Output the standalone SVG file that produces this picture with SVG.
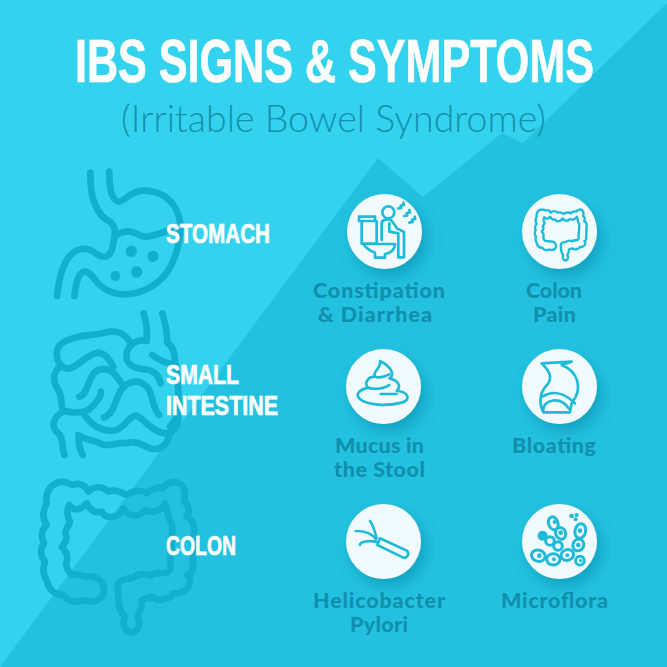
<svg xmlns="http://www.w3.org/2000/svg" xmlns:xlink="http://www.w3.org/1999/xlink" width="667" height="667" viewBox="0 0 667 667">
<style>
.organ{fill:none;stroke:#12B0CE;stroke-width:20;stroke-linecap:round;stroke-linejoin:round}
.dot{fill:#12B0CE}
.ic{fill:none;stroke:#1FBAD9;stroke-width:8;stroke-linecap:round;stroke-linejoin:round}
.icf{fill:#1FBAD9}
.disc{fill:#F1FBFF;filter:url(#sh)}
.head{font-family:"Liberation Sans",Arial,sans-serif;font-weight:700;fill:#fff;stroke:#fff;stroke-width:.7}
.lab{font-family:Lato,"Liberation Sans",sans-serif;font-weight:900;font-size:21.500px;fill:#1190AE;text-anchor:middle}
</style>
<defs>
<filter id="sh" x="-40%" y="-40%" width="200%" height="200%"><feDropShadow dx="5" dy="8" stdDeviation="7" flood-color="#0B7F9C" flood-opacity=".45"/></filter>
<path id="colon" d="M170 350C210 345 225 375 222 395C215 425 180 430 160 420C140 430 110 425 100 405C70 405 55 385 50 360C35 340 40 320 45 305C30 290 30 265 42 250C30 225 35 210 50 195C35 175 40 150 50 130C45 100 60 70 95 65C110 65 125 75 130 75C150 65 170 80 175 95C195 75 220 80 235 95C255 85 280 100 290 105C310 90 340 90 350 100C365 85 385 80 400 85C410 65 440 60 455 75C470 90 465 110 462 125C480 135 478 160 470 170C495 180 495 210 490 230C490 270 490 300 488 310C495 330 480 345 472 345C490 360 480 400 430 400C420 420 380 425 365 410C355 415 345 415 335 420C340 440 325 460 322 470C335 490 325 515 305 518C285 515 275 495 285 470C262 445 265 420 265 395C258 365 275 355 305 355C325 340 345 340 360 347C375 335 395 340 410 338C430 330 420 310 420 300C425 260 430 210 425 190C410 175 415 145 405 130C395 155 365 160 345 150C325 175 295 170 280 145C265 175 230 180 215 155C195 160 180 150 170 130C155 150 130 155 118 135C110 145 110 170 120 185C115 205 100 210 108 225C115 245 100 250 95 262C115 280 115 295 108 310C110 330 120 340 125 345C140 340 160 350 170 350Z"/>
</defs>
<rect width="667" height="667" fill="#33D2EE"/>
<polygon points="0,667 378,158 423,197 502,133 523,143 667,3 667,667" fill="#22C1DF"/>
<g id="title">
<text class="head" x="75" y="81.500" font-size="62" textLength="519" lengthAdjust="spacingAndGlyphs">IBS SIGNS &amp; SYMPTOMS</text>
<text x="121" y="132" font-family="Lato,sans-serif" font-weight="300" font-size="37" fill="#1790AD" textLength="425" lengthAdjust="spacingAndGlyphs">(Irritable Bowel Syndrome)</text>
</g>
<g id="stomach">
<g transform="translate(30 150) scale(.3333)">
<path class="organ" d="M181 68C180 130 190 190 240 215C262 230 255 260 248 290C240 330 215 325 190 305C160 285 125 300 105 340C90 370 85 405 81 438"/>
<path class="organ" d="M133 438C138 400 145 365 165 365C185 365 195 395 215 410C260 445 330 440 385 395C430 360 455 280 450 215C440 150 390 120 335 122C300 125 285 155 265 155C245 150 238 120 238 65"/>
<path class="organ" d="M255 258C290 235 310 245 335 258C360 265 390 250 420 240"/>
<circle class="dot" cx="304" cy="304" r="17"/><circle class="dot" cx="369" cy="319" r="17"/><circle class="dot" cx="320" cy="366" r="17"/><circle class="dot" cx="256" cy="378" r="15"/>
</g>
<text class="head" x="166" y="242.500" font-size="28" textLength="104" lengthAdjust="spacingAndGlyphs">STOMACH</text>
</g>
<g id="small-intestine">
<g transform="translate(30 150) scale(.3333)">
<path class="organ" d="M341 490C352 525 352 550 350 573C325 567 296 580 290 610C285 640 305 655 345 658C375 662 388 680 392 700"/>
<path class="organ" d="M397 490C408 525 412 550 412 578C430 590 436 610 436 640C445 680 445 720 445 740C450 780 440 810 420 830"/>
<path class="organ" d="M367 615C385 630 405 640 430 642"/>
<path class="organ" d="M300 575C280 545 250 540 225 548C200 555 170 555 145 560C110 570 80 580 80 610C80 640 100 660 120 655C150 645 175 610 205 608C230 610 245 640 250 650"/>
<path class="organ" d="M90 650C65 670 70 700 85 720C100 745 90 770 100 780C120 790 150 790 175 780C200 760 215 735 213 725"/>
<path class="organ" d="M148 740C170 735 170 705 185 680C200 650 240 650 260 680L278 705"/>
<path class="organ" d="M222 803C250 790 255 760 265 735C280 700 320 680 350 710C370 730 365 770 387 795"/>
<path class="organ" d="M100 785C70 800 60 830 85 850C100 860 95 890 103 915"/>
<path class="organ" d="M160 790C180 820 210 850 260 840C290 825 300 795 320 797C340 805 360 840 400 850C430 850 445 830 445 800"/>
<path class="organ" d="M158 915C150 900 145 880 145 855C165 870 190 870 210 880C235 895 260 875 285 880C320 870 335 885 360 895C395 905 415 880 418 850"/>
</g>
<text class="head" x="166" y="384" font-size="28" textLength="73" lengthAdjust="spacingAndGlyphs">SMALL</text>
<text class="head" x="166" y="415" font-size="28" textLength="112" lengthAdjust="spacingAndGlyphs">INTESTINE</text>
</g>
<g id="colon-organ">
<use xlink:href="#colon" href="#colon" class="organ" transform="translate(30 460) scale(.3333)"/>
<text class="head" x="166" y="554.500" font-size="28" textLength="70" lengthAdjust="spacingAndGlyphs">COLON</text>
</g>
<g id="constipation">
<circle class="disc" cx="384.500" cy="231.500" r="37.500"/>
<g transform="translate(330 180) scale(.3333)">
<path class="ic" d="M87 110H135V123H87ZM95 123H140V191H95ZM100 192H195C195 210 180 220 165 222V233H135V218C115 210 105 200 100 192Z"/>
<circle class="ic" cx="175" cy="97" r="18"/>
<path class="ic" d="M155 180V130C155 118 175 115 185 122L202 146L222 156V232H205V160L178 155V130"/>
<path class="ic" d="M205 85L214 84L212 77L222 75L220 68M222 108L232 106L230 99L240 97L238 90M238 128L248 126L246 119L256 117L254 110"/>
</g>
<text class="lab" x="379" y="297.500" textLength="132">Constipation</text>
<text class="lab" x="375" y="322" textLength="114">&amp; Diarrhea</text>
</g>
<g id="colon-pain">
<circle class="disc" cx="559.500" cy="231.500" r="37.500"/>
<use xlink:href="#colon" href="#colon" transform="translate(531 202) scale(.113)" fill="none" stroke="#1FBAD9" stroke-width="21" stroke-linejoin="round"/>
<text class="lab" x="554" y="297.500" textLength="56">Colon</text>
<text class="lab" x="554.500" y="322" textLength="43">Pain</text>
</g>
<g id="mucus">
<circle class="disc" cx="383.500" cy="386.500" r="37.500"/>
<g transform="translate(330 335) scale(.3333)">
<path class="ic" d="M150 78C185 95 195 120 178 130C205 135 215 155 200 168C235 170 245 195 215 203C170 215 110 210 90 192C75 180 85 165 115 158C100 145 115 125 135 125C125 110 155 100 150 78Z"/>
<path class="ic" d="M135 125C150 130 165 125 178 118M115 158C135 165 165 160 178 150M152 177H200"/>
</g>
<text class="lab" x="379.500" y="452.500" textLength="89">Mucus in</text>
<text class="lab" x="379.500" y="476.500" textLength="91">the Stool</text>
</g>
<g id="bloating">
<circle class="disc" cx="559.500" cy="386.500" r="37.500"/>
<g transform="translate(330 335) scale(.3333)">
<path class="ic" d="M635 85L725 80L695 90C745 110 760 160 725 205L720 232H640C625 200 630 170 655 145C670 120 650 100 635 85Z"/>
<path class="ic" d="M637 185C670 165 705 175 735 205"/>
<path class="ic" d="M640 225C640 195 690 180 718 222"/>
</g>
<text class="lab" x="554" y="452.500" textLength="84">Bloating</text>
</g>
<g id="helicobacter">
<circle class="disc" cx="383.500" cy="541.500" r="37.500"/>
<g transform="translate(330 490) scale(.3333)">
<path class="ic" d="M142 165L150 145L230 182C240 190 232 205 220 203Z"/>
<path class="ic" d="M120 93C130 105 135 125 140 145M77 123C100 122 125 130 138 148M90 165C90 155 115 150 142 156"/>
</g>
<text class="lab" x="379" y="607.500" textLength="132">Helicobacter</text>
<text class="lab" x="379" y="631.500" textLength="58">Pylori</text>
</g>
<g id="microflora">
<circle class="disc" cx="559.500" cy="541.500" r="37.500"/>
<g transform="translate(330 490) scale(.3333)">
<g class="ic" style="stroke-width:9">
<ellipse cx="670" cy="100" rx="14" ry="20" transform="rotate(-20 670 100)"/>
<ellipse cx="692" cy="130" rx="15" ry="18" transform="rotate(-25 692 130)"/>
<ellipse cx="751" cy="123" rx="16" ry="22" transform="rotate(12 751 123)"/>
<circle cx="660" cy="153" r="13"/>
<circle cx="684" cy="168" r="13"/>
<ellipse cx="745" cy="165" rx="16" ry="18" transform="rotate(30 745 165)"/>
<ellipse cx="625" cy="197" rx="21" ry="17" transform="rotate(15 625 197)"/>
<ellipse cx="670" cy="208" rx="20" ry="17"/>
<ellipse cx="712" cy="195" rx="19" ry="16" transform="rotate(-15 712 195)"/>
<circle cx="750" cy="212" r="13"/>
</g>
<g class="icf"><circle cx="638" cy="137" r="15"/><circle cx="674" cy="96" r="6"/><circle cx="692" cy="128" r="7"/><circle cx="750" cy="122" r="7"/><circle cx="745" cy="165" r="7"/><circle cx="628" cy="197" r="7"/><circle cx="672" cy="208" r="6"/><circle cx="712" cy="196" r="6"/><circle cx="752" cy="212" r="5"/><circle cx="725" cy="78" r="7"/><circle cx="740" cy="75" r="6"/><circle cx="737" cy="88" r="6"/></g>
</g>
<text class="lab" x="554.500" y="607.500" textLength="107">Microflora</text>
</g>
</svg>
